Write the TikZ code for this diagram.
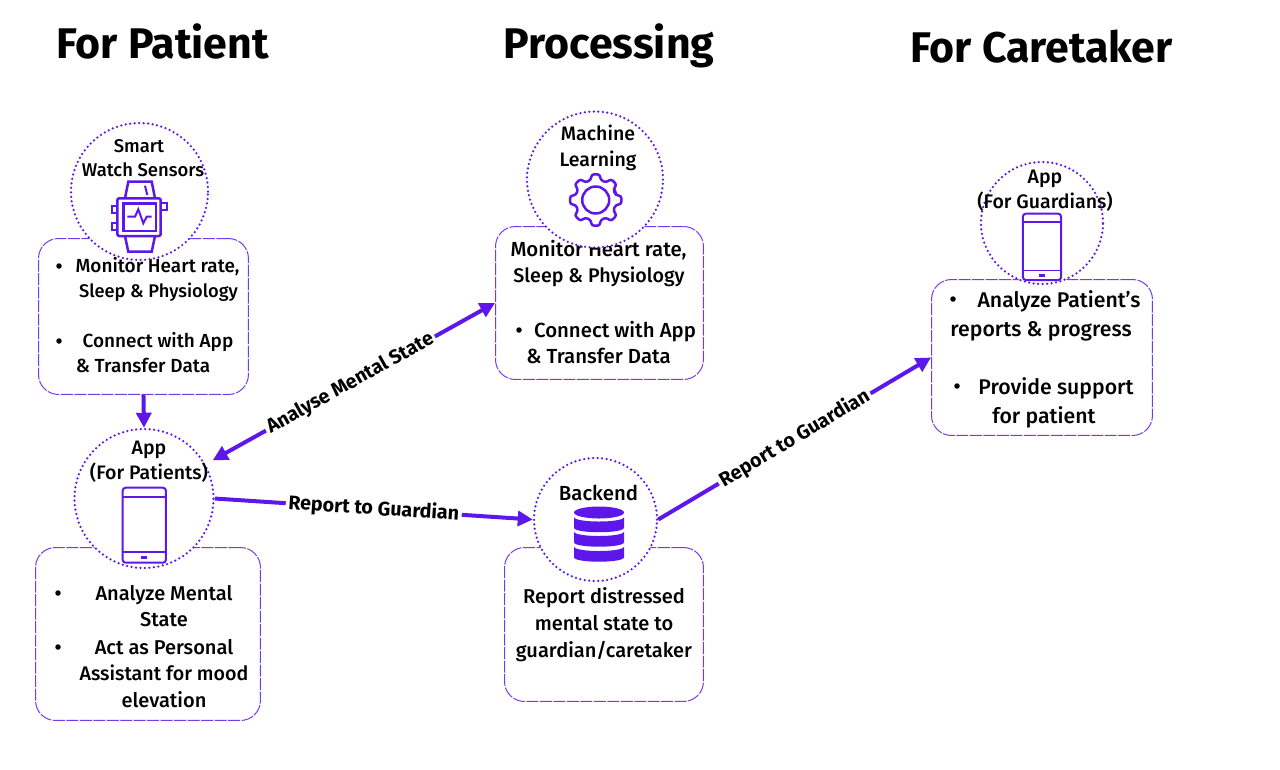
\documentclass[tikz,border=0pt]{standalone}
\usepackage{fontspec}
\setmainfont{Fira Sans}
\newfontfamily\bodyfont{Fira Sans Medium}
\newfontfamily\headfont{Fira Sans}[Scale=1.0]
\usetikzlibrary{arrows.meta}
\definecolor{flowpurple}{HTML}{5E17EB}
\tikzset{
  infobox/.style={draw=flowpurple!85,line width=0.02cm,dash pattern=on 0.24cm off 0.03cm,rounded corners=0.4cm,anchor=north west,inner sep=0pt},
  iconring/.style={circle,draw=flowpurple,fill=white,line width=0.05cm,line cap=round,dash pattern=on 0pt off 0.09cm,inner sep=0pt},
  flowarrow/.style={draw=flowpurple,line width=0.08cm,>={Triangle[length=0.3cm,width=0.3cm]}},
  headtxt/.style={font=\headfont\bfseries\fontsize{24.4pt}{27pt}\selectfont,inner sep=0pt,anchor=base,yshift=-0.28cm},
  boxtxt/.style={font=\bodyfont\fontsize{#1pt}{14pt}\selectfont,inner sep=0pt,anchor=base,yshift=-0.14cm},
  boxtxt/.default=11.4,
  bulletmark/.style={circle,fill=black,inner sep=0pt,minimum size=0.11cm},
  linktxt/.style={font=\headfont\bfseries\fontsize{11.2pt}{12pt}\selectfont,fill=white,inner sep=1.5pt,sloped}
}
\newcommand{\phonepic}[4]{
  \draw[flowpurple,line width=0.04cm,rounded corners=0.06cm] (#1-#3/2,#2) rectangle +(#3,#4);
  \draw[flowpurple,line width=0.03cm] (#1-#3/2,#2+0.125*#4) -- +(#3,0);
  \draw[flowpurple,line width=0.03cm] (#1-#3/2,#2+0.86*#4) -- +(#3,0);
  \draw[flowpurple,line width=0.06cm] (#1-3,#2+0.93*#4) -- +(6,0);
}
\begin{document}
\begin{tikzpicture}[x=0.02cm,y=-0.02cm]
  \useasboundingbox (0,0) rectangle (1280,769);
  % titles
  \node[headtxt] (titlepatient) at (162.5,44) {For Patient};
  \node[headtxt] (titleproc) at (609,44) {Processing};
  \node[headtxt] (titlecare) at (1041.5,48) {For Caretaker};
  % boxes
  \node[infobox,minimum width=4.2cm,minimum height=3.12cm] (boxwatch) at (38,238) {};
  \node[infobox,minimum width=4.16cm,minimum height=3.06cm] (boxml) at (495,226) {};
  \node[infobox,minimum width=4.5cm,minimum height=3.46cm] (boxapp) at (35,547) {};
  \node[infobox,minimum width=3.98cm,minimum height=3.08cm] (boxback) at (504,547) {};
  \node[infobox,minimum width=4.42cm,minimum height=3.12cm] (boxguard) at (931,279) {};
  % box text
  \node[bulletmark] (bw1) at (59,266) {};
  \node[boxtxt=10.8] (tw1) at (157.5,265) {Monitor Heart rate,};
  \node[boxtxt=10.4] (tw2) at (158.5,290) {Sleep \& Physiology};
  \node[bulletmark] (bw2) at (59,341) {};
  \node[boxtxt=10.8] (tw3) at (158,340) {Connect with App};
  \node[boxtxt=10.8] (tw4) at (143,365) {\& Transfer Data};
  \node[boxtxt=11.6] (tm1) at (598.5,249) {Monitor Heart rate,};
  \node[boxtxt=11.2] (tm2) at (599,275) {Sleep \& Physiology};
  \node[bulletmark] (bm1) at (519,330) {};
  \node[boxtxt=11.6] (tm3) at (615,330) {Connect with App};
  \node[boxtxt=11.6] (tm4) at (598.5,356) {\& Transfer Data};
  \node[bulletmark] (ba1) at (58,593) {};
  \node[boxtxt] (ta1) at (164,593) {Analyze Mental};
  \node[boxtxt] (ta2) at (164,619) {State};
  \node[bulletmark] (ba2) at (58,647) {};
  \node[boxtxt] (ta3) at (164,647) {Act as Personal};
  \node[boxtxt=11.2] (ta4) at (164,673) {Assistant for mood};
  \node[boxtxt] (ta5) at (164,700) {elevation};
  \node[boxtxt] (tb1) at (604,596) {Report distressed};
  \node[boxtxt] (tb2) at (604,623) {mental state to};
  \node[boxtxt] (tb3) at (604,650) {guardian/caretaker};
  \node[bulletmark] (bg1) at (953,299) {};
  \node[boxtxt=12.1] (tg1) at (1059,300) {Analyze Patient’s};
  \node[boxtxt=12.1] (tg2) at (1041,329) {reports \& progress};
  \node[bulletmark] (bg2) at (957,386) {};
  \node[boxtxt=12.1] (tg3) at (1056,387) {Provide support};
  \node[boxtxt=12.1] (tg4) at (1044,416) {for patient};
  % rings
  \node[iconring,minimum size=2.74cm] (ringwatch) at (139.5,191.5) {};
  \node[iconring,minimum size=2.72cm] (ringml) at (595,179.5) {};
  \node[iconring,minimum size=2.78cm] (ringapp) at (144,498.5) {};
  \node[iconring,minimum size=2.46cm] (ringback) at (595.5,519.5) {};
  \node[iconring,minimum size=2.44cm] (ringguard) at (1042,223) {};
  % ring text
  \node[boxtxt=10.5] (rw1) at (139,145) {Smart};
  \node[boxtxt=10.5] (rw2) at (143,169) {Watch Sensors};
  \node[boxtxt=11.1] (rm1) at (598,133) {Machine};
  \node[boxtxt=11.1] (rm2) at (598,159) {Learning};
  \node[boxtxt=11.1] (ra1) at (149,447) {App};
  \node[boxtxt=11.1] (ra2) at (149,472) {(For Patients)};
  \node[boxtxt=11.6] (rb1) at (598.5,493) {Backend};
  \node[boxtxt=11.1] (rg1) at (1045,176) {App};
  \node[boxtxt=11.1] (rg2) at (1045,201) {(For Guardians)};
  % watch
  \draw[flowpurple,line width=0.05cm,rounded corners=0.04cm] (117.3,198.3) rectangle (160.7,236);
  \draw[flowpurple,line width=0.05cm] (123.3,203.3) rectangle (156,231);
  \draw[flowpurple,line width=0.05cm] (125,198.3) -- (128.3,181.7) -- (151.7,181.7) -- (155,198.3);
  \draw[flowpurple,line width=0.05cm] (125,236) -- (128.3,251.7) -- (151.7,251.7) -- (155,236);
  \draw[flowpurple,line width=0.04cm] (145,185.7) -- (147.3,195);
  \draw[flowpurple,line width=0.04cm] (117.3,206) -- (111.7,206) -- (111.7,213.3) -- (117.3,213.3);
  \draw[flowpurple,line width=0.04cm] (117.3,223.3) -- (111.7,223.3) -- (111.7,230) -- (117.3,230);
  \draw[flowpurple,line width=0.04cm] (160.7,203.3) -- (166.7,203.3) -- (166.7,210) -- (160.7,210);
  \draw[flowpurple,line width=0.04cm] (127.3,216.7) -- (135,216.7) -- (138.3,209.3) -- (143.3,223.3) -- (146.7,216.7) -- (151.7,216.7);
  % gear
  \begin{scope}[shift={(595.7,200)}]
    \draw[flowpurple,line width=0.05cm] (0,0) circle (13.5);
    \draw[flowpurple,line width=0.05cm,rounded corners=0.05cm] (-14:20.5)
      \foreach \a in {0,45,...,315} { -- (\a-14:20.5) -- (\a-9:26) -- (\a+9:26) -- (\a+14:20.5) } -- cycle;
  \end{scope}
  % database
  \fill[flowpurple] (599,512.5) ellipse (25 and 6);
  \foreach \y in {517,531.5,546.5} {
    \fill[flowpurple] (574,\y) .. controls (574,\y+6) and (624,\y+6) .. (624,\y) -- (624,\y+10.7)
      .. controls (624,\y+16.7) and (574,\y+16.7) .. (574,\y+10.7) -- cycle;
  }
  % phones
  \phonepic{144.3}{487.7}{43.3}{75}
  \phonepic{1042}{213.7}{38.3}{66.3}
  % connectors
  \draw[flowarrow,->] (boxwatch.south) -- (ringapp.north);
  \draw[flowarrow,<->,shorten <=0.16cm] (ringapp) -- node[linktxt] (lblmental) {Analyse Mental State} (boxml.west);
  \draw[flowarrow,->] (ringapp.east) -- node[linktxt] (lblguardA) {Report to Guardian} (ringback.west);
  \draw[flowarrow,->] (ringback.east) -- node[linktxt] (lblguardB) {Report to Guardian} (boxguard.west);
\end{tikzpicture}
\end{document}
